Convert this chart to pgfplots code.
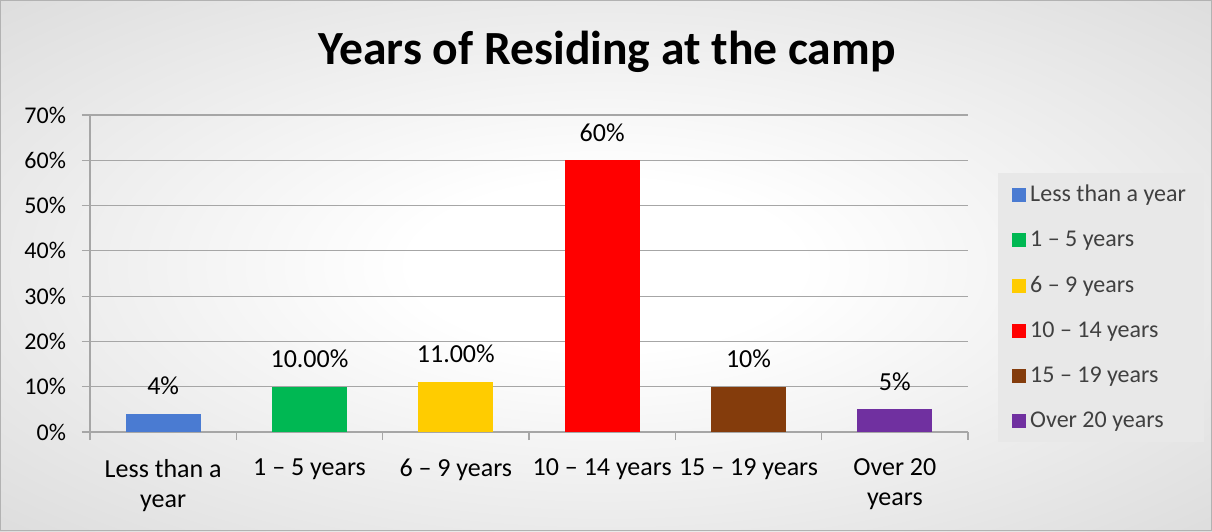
\documentclass[border=0pt]{standalone}
\usepackage{pgfplots}
\pgfplotsset{compat=1.18}
\usepackage{fontspec}
\setmainfont{Carlito}

\definecolor{cblue}{HTML}{4A7BD2}
\definecolor{cgreen}{HTML}{00B853}
\definecolor{cyellow}{HTML}{FFCC00}
\definecolor{cred}{HTML}{FF0000}
\definecolor{cbrown}{HTML}{843C0C}
\definecolor{cpurple}{HTML}{7030A0}
\definecolor{gridgray}{HTML}{A6A6A6}
\definecolor{legtext}{HTML}{404040}

% soft radial backdrop, white in the middle, grey towards the edges
\pgfdeclareradialshading{bgshade}{\pgfpoint{0bp}{0bp}}{%
  color(0bp)=(white); color(8bp)=(white); color(70bp)=(black!30)}

\begin{document}
\begin{tikzpicture}
% page is 1212x531 px at 0.5pt per px
\shade[shading=bgshade] (0,0) rectangle (606pt,265.5pt);
\draw[gray!60, line width=0.5pt] (0.25pt,0.25pt) rectangle (605.75pt,265.25pt);

\node[font=\bfseries\fontsize{23.8}{28}\selectfont] at (303.5pt,239.5pt)
  {Years of Residing at the camp};

\begin{axis}[
  at={(45pt,49.5pt)}, anchor=south west,
  scale only axis, width=439pt, height=158.5pt,
  xmin=-0.5, xmax=5.5,
  ymin=0, ymax=70,
  axis lines*=left,
  axis line style={draw=gridgray, line width=0.6pt, -},
  ymajorgrids,
  grid style={draw=gridgray, line width=0.6pt},
  ytick={0,10,...,70},
  yticklabel={\pgfmathprintnumber{\tick}\%},
  xtick={0,1,2,3,4,5},
  xticklabels={{Less than a\\year},{1 -- 5 years},{6 -- 9 years},{10 -- 14 years},{15 -- 19 years},{Over 20\\years}},
  minor xtick={-0.5,0.5,...,5.5},
  major x tick style={draw=none},
  tick style={draw=gridgray, line width=0.6pt},
  tick align=outside,
  major tick length=4pt, minor tick length=4pt,
  /pgf/number format/assume math mode=true,
  yticklabel style={font=\fontsize{12}{15}\selectfont, xshift=-4.5pt},
  xticklabel style={font=\fontsize{13}{15}\selectfont, align=center, yshift=-6pt},
  every node near coord/.style={anchor=center, yshift=14pt, font=\fontsize{13}{15}\selectfont, black},
  legend style={at={(1.034,0.817)}, anchor=north west, draw=none,
    fill=black!9, font=\fontsize{12}{15}\selectfont\color{legtext},
    row sep=9.2pt, inner xsep=7pt, inner ysep=3.8pt},
  legend cell align=left,
  legend image code/.code={\fill[#1] (0pt,-3.5pt) rectangle (7pt,3.5pt);},
]
\addplot[ybar, bar width=37.5pt, bar shift=0pt, fill=cblue, draw=none,
  nodes near coords={4\%}] coordinates {(0,4)};
\addlegendentry{Less than a year}
\addplot[ybar, bar width=37.5pt, bar shift=0pt, fill=cgreen, draw=none,
  nodes near coords={10.00\%}] coordinates {(1,10)};
\addlegendentry{1 -- 5 years}
\addplot[ybar, bar width=37.5pt, bar shift=0pt, fill=cyellow, draw=none,
  nodes near coords={11.00\%}] coordinates {(2,11)};
\addlegendentry{6 -- 9 years}
\addplot[ybar, bar width=37.5pt, bar shift=0pt, fill=cred, draw=none,
  nodes near coords={60\%}] coordinates {(3,60)};
\addlegendentry{10 -- 14 years}
\addplot[ybar, bar width=37.5pt, bar shift=0pt, fill=cbrown, draw=none,
  nodes near coords={10\%}] coordinates {(4,10)};
\addlegendentry{15 -- 19 years}
\addplot[ybar, bar width=37.5pt, bar shift=0pt, fill=cpurple, draw=none,
  nodes near coords={5\%}] coordinates {(5,5)};
\addlegendentry{Over 20 years}
\end{axis}

\pgfresetboundingbox
\path (0,0) rectangle (606pt,265.5pt);
\end{tikzpicture}
\end{document}
